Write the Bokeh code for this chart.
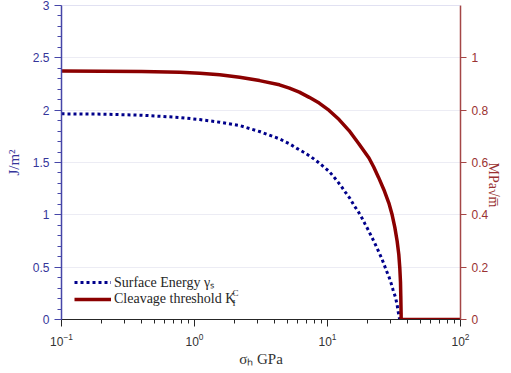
import math
from bokeh.plotting import figure
from bokeh.models import (Range1d, LinearAxis, SingleIntervalTicker, LogTicker,
                          Legend, LegendItem, Label, Span)
from bokeh.embed import file_html
from bokeh.resources import INLINE

# Hydrostatic stress (GPa) and surface energy (J/m^2)
sigma_gamma = [0.1, 0.2, 0.4, 0.777, 1.096, 1.547, 2.184, 3.083, 4.35, 5.17, 5.93,
               6.69, 7.6, 8.66, 10.29, 11.2, 12.59, 13.56, 14.78, 15.83, 17.05,
               18.07, 19.13, 20.25, 21.47, 22.74, 24.06, 25.33, 26.54, 27.61,
               28.93, 30.10, 31.16, 32.47, 33.38, 33.96, 34.5, 34.9]
gamma = [1.965, 1.962, 1.952, 1.93, 1.91, 1.885, 1.853, 1.796, 1.726, 1.679, 1.632,
         1.595, 1.55, 1.495, 1.415, 1.36, 1.28, 1.22, 1.155, 1.09, 1.03,
         0.975, 0.914, 0.855, 0.79, 0.726, 0.658, 0.595, 0.532, 0.472,
         0.41, 0.345, 0.28, 0.21, 0.14, 0.08, 0.03, 0.0]

# Hydrostatic stress (GPa) and cleavage threshold (MPa sqrt(m))
sigma_k = [0.1, 0.2, 0.4, 0.777, 1.096, 1.547, 2.184, 3.083, 4.35, 5.17, 6.14,
           7.29, 8.66, 10.29, 12.22, 14.52, 17.25, 20.5, 22.3, 24.2, 26.54,
           28.93, 30.62, 32.08, 33.38, 34.37, 34.97, 35.39, 35.57, 35.76, 35.8,
           100.0]
k_ic = [0.950, 0.949, 0.948, 0.945, 0.941, 0.935, 0.926, 0.913, 0.897, 0.884, 0.869,
        0.849, 0.827, 0.799, 0.764, 0.722, 0.671, 0.617, 0.582, 0.543, 0.496,
        0.445, 0.400, 0.352, 0.300, 0.248, 0.196, 0.142, 0.090, 0.025, 0.0,
        0.0]

BLUE = "#00008b"
RED = "#8b0000"
BLUE_AX = "#4646a8"
BLUE_TXT = "#35359a"
RED_AX = "#a44646"
RED_TXT = "#9a3232"
GREY = "#262626"
SERIF = "Liberation Serif"
SANS = "Liberation Sans"

p = figure(width=511, height=373, x_axis_type="log",
           x_range=Range1d(0.1, 100), y_range=Range1d(0, 3),
           output_backend="svg", toolbar_location=None,
           min_border_left=61, min_border_right=49,
           min_border_top=5, min_border_bottom=54)
p.outline_line_color = None
p.background_fill_color = "white"
p.border_fill_color = "white"

# left axis (surface energy)
ya = p.yaxis[0]
ya.ticker = SingleIntervalTicker(interval=0.5, num_minor_ticks=5)
ya.major_label_overrides = {0: "0", 1: "1", 2: "2", 3: "3"}
ya.axis_line_color = BLUE_AX
ya.axis_line_width = 1.5
ya.major_tick_line_color = BLUE_AX
ya.minor_tick_line_color = BLUE_AX
ya.major_tick_in = 0
ya.major_tick_out = 7
ya.minor_tick_in = 0
ya.minor_tick_out = 4
ya.major_label_text_color = BLUE_TXT
ya.major_label_text_font = SANS
ya.major_label_text_font_size = "12px"
ya.major_label_standoff = 5
ya.axis_label = "J/m²"
ya.axis_label_text_font = SERIF
ya.axis_label_text_font_style = "normal"
ya.axis_label_text_font_size = "15px"
ya.axis_label_text_color = BLUE_TXT
ya.axis_label_standoff = 8

# bottom axis (stress, log)
xa = p.xaxis[0]
xa.ticker = LogTicker(num_minor_ticks=10)
xa.axis_line_color = GREY
xa.major_tick_line_color = GREY
xa.minor_tick_line_color = GREY
xa.major_tick_in = 0
xa.major_tick_out = 7
xa.minor_tick_in = 0
xa.minor_tick_out = 4
xa.major_label_text_color = "#333333"
xa.major_label_text_font = SANS
xa.major_label_text_font_size = "12px"
xa.major_label_standoff = 6
xa.axis_label = "σₕ GPa"
xa.axis_label_text_font = SERIF
xa.axis_label_text_font_style = "normal"
xa.axis_label_text_font_size = "15px"
xa.axis_label_text_color = "#333333"
xa.axis_label_standoff = 2

# right axis (cleavage threshold), title reading bottom to top
p.extra_y_ranges = {"k": Range1d(0, 1.2)}
ra = LinearAxis(y_range_name="k",
                ticker=SingleIntervalTicker(interval=0.2, num_minor_ticks=0))
ra.major_label_overrides = {0: "0", 1: "1"}
ra.axis_line_color = RED_AX
ra.axis_line_width = 1.5
ra.major_tick_line_color = RED_AX
ra.major_tick_in = 0
ra.major_tick_out = 6
ra.minor_tick_line_color = None
ra.major_label_text_color = RED_TXT
ra.major_label_text_font = SANS
ra.major_label_text_font_size = "12px"
ra.major_label_standoff = 5
ra.axis_label = "MPa√m̅"
ra.axis_label_text_font = SERIF
ra.axis_label_text_font_style = "normal"
ra.axis_label_text_font_size = "14px"
ra.axis_label_text_color = RED_TXT
ra.axis_label_standoff = 2
ra.axis_label_orientation = -math.pi / 2
p.add_layout(ra, "right")

# grid
p.xgrid.visible = False
p.ygrid.ticker = SingleIntervalTicker(interval=0.5)
p.ygrid.grid_line_color = "#ececf4"
p.ygrid.grid_line_width = 1
p.add_layout(Span(location=3, dimension="width", line_color="#c4c4e6", line_width=1))

# curves
r1 = p.line(sigma_gamma, gamma, line_color=BLUE, line_width=3,
            line_dash="3 3", line_cap="butt")
r2 = p.line(sigma_k, k_ic, y_range_name="k", line_color=RED, line_width=3.5)

legend = Legend(items=[LegendItem(label="Surface Energy γₛ", renderers=[r1]),
                       LegendItem(label="Cleavage threshold K", renderers=[r2])],
                location=(13, 12), padding=0, margin=0, spacing=0,
                glyph_width=37, glyph_height=16, label_height=16,
                label_standoff=3, label_text_font=SERIF,
                label_text_font_size="14px", label_text_color=GREY,
                background_fill_alpha=0, border_line_color=None)
p.add_layout(legend)

# sub/superscripts of K
p.add_layout(Label(x=171, y=27, x_units="screen", y_units="screen", text="C",
                   text_font=SERIF, text_font_size="9px", text_color=GREY,
                   text_baseline="middle"))
p.add_layout(Label(x=171, y=17, x_units="screen", y_units="screen", text="I",
                   text_font=SERIF, text_font_size="9px", text_color=GREY,
                   text_baseline="middle"))

open("out.html", "w").write(file_html(p, INLINE))
